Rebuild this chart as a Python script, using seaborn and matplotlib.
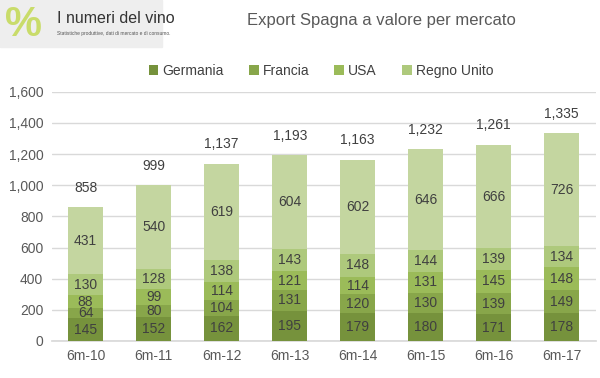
import matplotlib
matplotlib.use("Agg")
import matplotlib.pyplot as plt
import seaborn as sns
import numpy as np

# data
periods = ["6m-10", "6m-11", "6m-12", "6m-13", "6m-14", "6m-15", "6m-16", "6m-17"]
germania = [145, 152, 162, 195, 179, 180, 171, 178]
francia = [64, 80, 104, 131, 120, 130, 139, 149]
usa = [88, 99, 114, 121, 114, 131, 145, 148]
regno_unito = [130, 128, 138, 143, 148, 144, 139, 134]
altri = [431, 540, 619, 604, 602, 646, 666, 726]
totals = [858, 999, 1137, 1193, 1163, 1232, 1261, 1335]

series = [
    ("Germania", germania, "#76923c"),
    ("Francia", francia, "#88a64a"),
    ("USA", usa, "#9bbb59"),
    ("Regno Unito", regno_unito, "#aec97c"),
    (None, altri, "#c4d6a0"),
]

sns.set_theme(style="white")
plt.rcParams["font.family"] = ["Liberation Sans", "DejaVu Sans"]

fig = plt.figure(figsize=(6, 3.78), dpi=100)
ax = fig.add_axes([0.086, 0.098, 0.907, 0.659])

bottom = np.zeros(len(periods))
for name, vals, col in series:
    sns.barplot(x=periods, y=vals, bottom=bottom, color=col, width=0.51,
                ax=ax, label=name, saturation=1, linewidth=0, zorder=3)
    for i, v in enumerate(vals):
        ax.text(i, bottom[i] + v / 2, str(v), ha="center", va="center",
                fontsize=10, color="#404040", zorder=4)
    bottom += np.array(vals)

for i, t in enumerate(totals):
    ax.annotate(f"{t:,}", xy=(i, t), xytext=(0, 9), textcoords="offset points",
                ha="center", va="bottom", fontsize=10, color="#404040")

ax.set_ylim(0, 1600)
ax.set_xlim(-0.5, len(periods) - 0.5)
ax.set_yticks(np.arange(0, 1601, 200))
ax.set_yticklabels([f"{v:,}" for v in range(0, 1601, 200)])
ax.yaxis.grid(True, color="#d9d9d9", linewidth=1, zorder=0)
ax.tick_params(axis="both", labelsize=10, colors="#595959", length=0, pad=6)
for s in ["top", "right", "left"]:
    ax.spines[s].set_visible(False)
ax.spines["bottom"].set_color("#d9d9d9")

ax.legend(loc="center", bbox_to_anchor=(0.495, 1.085), ncol=4, frameon=False,
          fontsize=10, handlelength=0.7, handleheight=0.7, handletextpad=0.3,
          columnspacing=1.8, labelcolor="#404040")

fig.text(0.635, 0.945, "Export Spagna a valore per mercato", ha="center", va="center",
         fontsize=12, color="#595959")

# logo stand-in
fig.add_artist(plt.Rectangle((0, 0.875), 0.27, 0.125, transform=fig.transFigure,
                             color="#eeeeee", zorder=0))
fig.text(0.04, 0.935, "%", ha="center", va="center", fontsize=30, color="#c9dc6a",
         fontweight="bold")
fig.text(0.095, 0.952, "I numeri del vino", ha="left", va="center", fontsize=11.5,
         color="#333333")
fig.text(0.095, 0.912, "Statistiche produttive, dati di mercato e di consumo.",
         ha="left", va="center", fontsize=3.5, color="#555555")

fig.savefig("out.png", dpi=100)
